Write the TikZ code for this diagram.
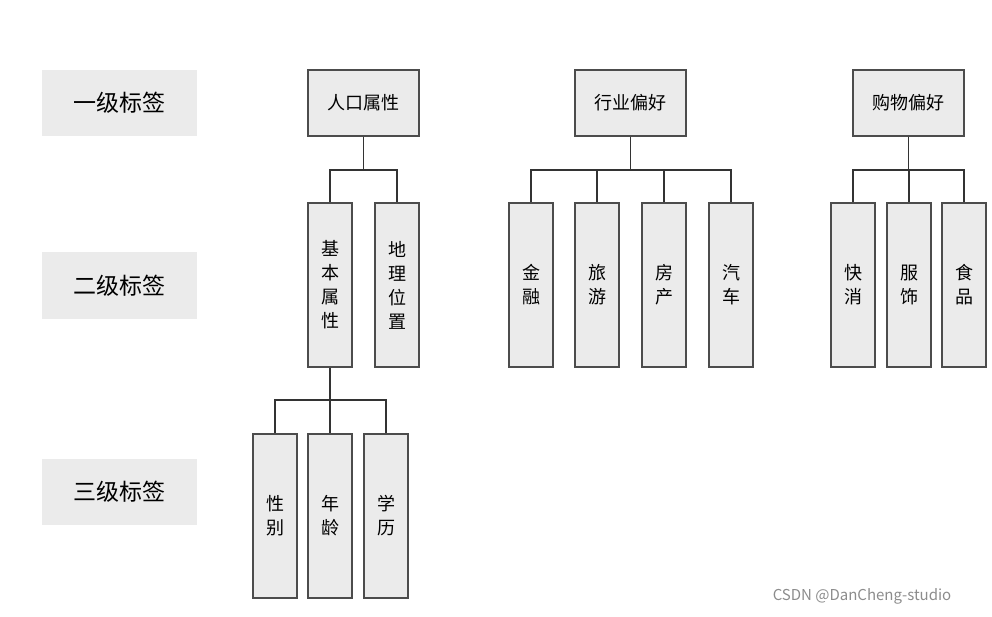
\documentclass[tikz,border=0pt]{standalone}
\usepackage{fontspec}
\setmainfont{Noto Sans CJK SC}
\usetikzlibrary{positioning}
\tikzset{tag/.style={draw=black!70,fill=black!8,line width=1.2pt,inner sep=0pt,font=\fontsize{18}{24}\selectfont},
         top/.style={tag,minimum width=111pt,minimum height=66pt},
         vbox/.style={tag,minimum width=44pt,minimum height=164pt,align=center},
         level/.style={fill=black!8,minimum width=155pt,minimum height=66pt,font=\fontsize{23}{28}\selectfont},
         wire/.style={line width=1.2pt,black!80},
        }
\begin{document}
\begin{tikzpicture}[x=1pt,y=-1pt]
        \useasboundingbox (0,0) rectangle (992,617);
        \node[level](l1)at(119.5,103){一级标签};
        \node[level](l2)at(119.5,285.5){二级标签};
        \node[level](l3)at(119.5,491.5){三级标签};

        \node[top](rk)at(363.5,103){人口属性};
        \node[top](hy)at(630.5,103){行业偏好};
        \node[top](gw)at(908.5,103){购物偏好};

        \node[vbox](jb)at(330,285){基\\本\\属\\性};
        \node[vbox](dl)at(397,285){地\\理\\位\\置};
        \node[vbox](jr)at(531,285){金\\融};
        \node[vbox](ly)at(597,285){旅\\游};
        \node[vbox](fc)at(664,285){房\\产};
        \node[vbox](qc)at(731,285){汽\\车};
        \node[vbox](kx)at(853,285){快\\消};
        \node[vbox](fs)at(909,285){服\\饰};
        \node[vbox](sp)at(964,285){食\\品};

        \node[vbox](xb)at(275,516){性\\别};
        \node[vbox](nl)at(330,516){年\\龄};
        \node[vbox](xl)at(386,516){学\\历};

        \foreach \p/\c in {rk/jb,rk/dl,hy/jr,hy/ly,hy/fc,hy/qc,gw/kx,gw/fs,gw/sp}
            \draw[wire](\p.south)|-(\p.south|-0,170)-|(\c.north);
        \foreach \c in {xb,nl,xl}
            \draw[wire](jb.south)|-(jb.south|-0,400)-|(\c.north);

        \node[text=black!45,font=\fontsize{15}{18}\selectfont](wm)at(862,596){CSDN @DanCheng-studio};
\end{tikzpicture}
\end{document}
